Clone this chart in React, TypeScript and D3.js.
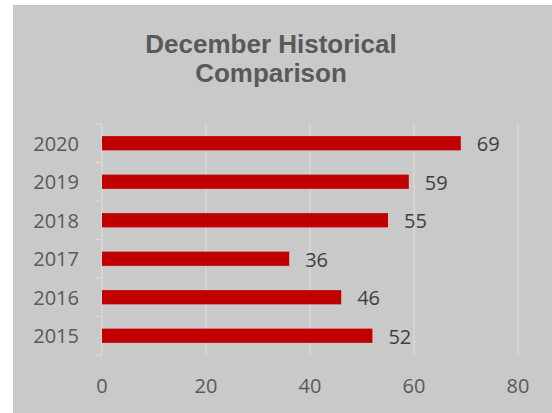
import { useEffect, useRef } from 'react';
import * as d3 from 'd3';

const years = ['2020', '2019', '2018', '2017', '2016', '2015'];
const values = [69, 59, 55, 36, 46, 52];
const xTicks = [0, 20, 40, 60, 80];
const titleLines = ['December Historical', 'Comparison'];

export default function App() {
  const svgRef = useRef<SVGSVGElement>(null);
  const width = 552;
  const height = 413;

  useEffect(() => {
    if (!svgRef.current) return;
    const svg = d3.select(svgRef.current);
    svg.selectAll('*').remove();

    const plot = { left: 102, right: 518, top: 124, bottom: 355 };

    // chart area background
    svg.append('rect')
      .attr('x', 13)
      .attr('y', 5)
      .attr('width', width - 13)
      .attr('height', height - 5)
      .attr('fill', '#c9c9c9');

    const xScale = d3.scaleLinear()
      .domain([0, 80])
      .range([plot.left, plot.right]);

    const yScale = d3.scaleBand<string>()
      .domain(years)
      .range([plot.top, plot.bottom])
      .padding(0);

    const barH = yScale.bandwidth() * 0.37;

    // Title
    svg.append('g')
      .selectAll('text')
      .data(titleLines)
      .join('text')
      .attr('x', 271)
      .attr('y', (d, i) => 53 + i * 29)
      .attr('text-anchor', 'middle')
      .style('font-family', '"Liberation Sans", Arial, sans-serif')
      .style('font-weight', 'bold')
      .style('font-size', '26px')
      .style('fill', '#595959')
      .text(d => d);

    // Gridlines
    svg.append('g')
      .selectAll('line')
      .data(xTicks.slice(1))
      .join('line')
      .attr('x1', d => xScale(d))
      .attr('x2', d => xScale(d))
      .attr('y1', plot.top)
      .attr('y2', plot.bottom)
      .attr('stroke', '#dadada')
      .attr('stroke-width', 1.3);

    // Y axis with ticks at category boundaries
    const axis = svg.append('g');
    axis.append('line')
      .attr('x1', plot.left)
      .attr('x2', plot.left)
      .attr('y1', plot.top)
      .attr('y2', plot.bottom)
      .attr('stroke', '#dadada')
      .attr('stroke-width', 1.3);
    const bounds = years.map(y => yScale(y) || 0).concat([plot.bottom]);
    axis.selectAll('.tick')
      .data(bounds)
      .join('line')
      .attr('class', 'tick')
      .attr('x1', plot.left - 7)
      .attr('x2', plot.left)
      .attr('y1', d => d)
      .attr('y2', d => d)
      .attr('stroke', '#dadada')
      .attr('stroke-width', 1.3);

    // Bars
    svg.append('g')
      .selectAll('rect')
      .data(values)
      .join('rect')
      .attr('x', xScale(0))
      .attr('y', (d, i) => (yScale(years[i]) || 0) + yScale.bandwidth() / 2 - barH / 2)
      .attr('width', d => xScale(d) - xScale(0))
      .attr('height', barH)
      .attr('fill', '#c00000');

    const textFont = '"Open Sans", "Liberation Sans", sans-serif';

    // Year labels
    svg.append('g')
      .selectAll('text')
      .data(years)
      .join('text')
      .attr('x', 79)
      .attr('y', d => (yScale(d) || 0) + yScale.bandwidth() / 2 + 7.5)
      .attr('text-anchor', 'end')
      .style('font-family', textFont)
      .style('font-size', '20px')
      .style('fill', '#595959')
      .text(d => d);

    // Value labels
    svg.append('g')
      .selectAll('text')
      .data(values)
      .join('text')
      .attr('x', d => xScale(d) + 16)
      .attr('y', (d, i) => (yScale(years[i]) || 0) + yScale.bandwidth() / 2 + 8)
      .style('font-family', textFont)
      .style('font-size', '20px')
      .style('fill', '#404040')
      .text(d => d);

    // X tick labels
    svg.append('g')
      .selectAll('text')
      .data(xTicks)
      .join('text')
      .attr('x', d => xScale(d))
      .attr('y', 393)
      .attr('text-anchor', 'middle')
      .style('font-family', textFont)
      .style('font-size', '20px')
      .style('fill', '#595959')
      .text(d => d);
  }, []);

  return (
    <svg
      ref={svgRef}
      width={width}
      height={height}
      style={{ position: 'absolute', left: 0, top: 0, background: '#ffffff' }}
    />
  );
}
